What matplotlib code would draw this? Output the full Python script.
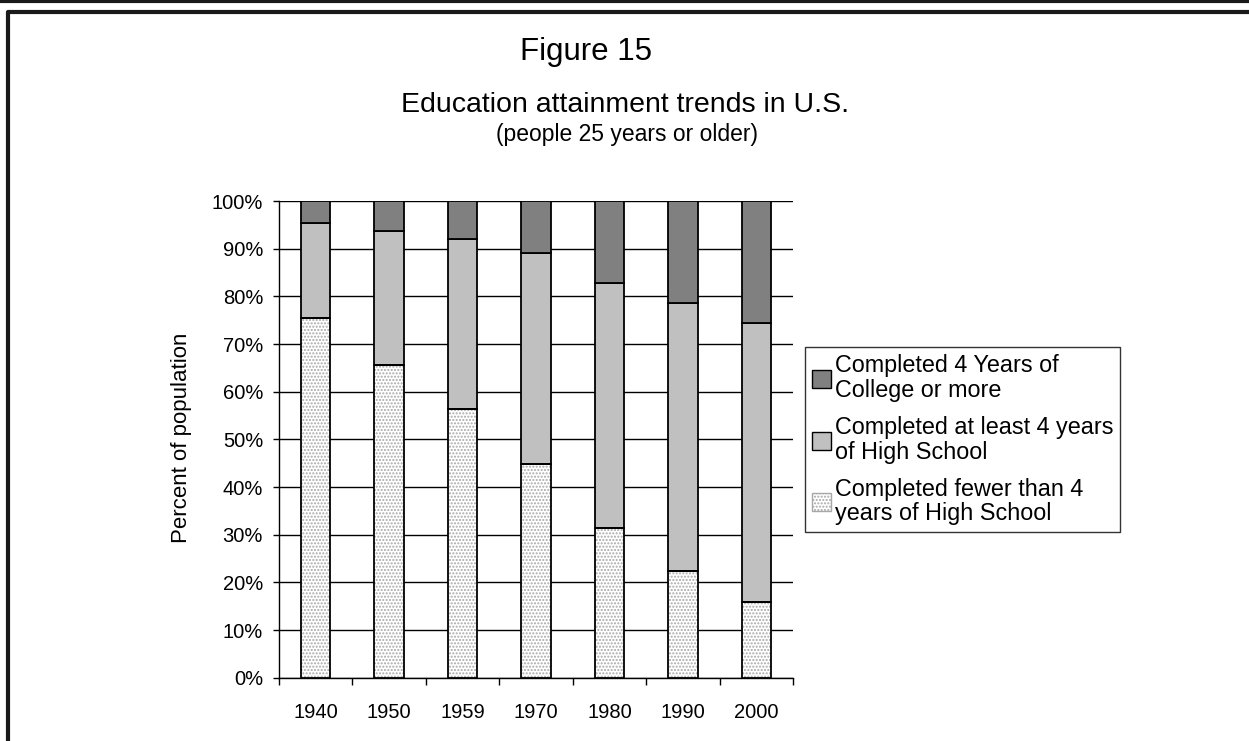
import matplotlib.pyplot as plt
import numpy as np
from matplotlib.lines import Line2D
from matplotlib.patches import Patch

plt.rcParams['font.family'] = ['Liberation Sans', 'DejaVu Sans']

years = ['1940', '1950', '1959', '1970', '1980', '1990', '2000']
# cumulative top of each segment, in percent
fewer_hs = [75.5, 65.7, 56.3, 44.8, 31.4, 22.4, 15.9]
at_least_hs_top = [95.4, 93.7, 92.0, 89.1, 82.9, 78.6, 74.4]
college_top = [100, 100, 100, 100, 100, 100, 100]

labels = ['Completed 4 Years of\nCollege or more',
          'Completed at least 4 years\nof High School',
          'Completed fewer than 4\nyears of High School']

fig = plt.figure(figsize=(12.49, 7.41), dpi=100)
ax = fig.add_axes([0.2234, 0.0854, 0.4115, 0.6433])

x = np.arange(len(years))
w = 0.40
fewer = np.array(fewer_hs)
hs = np.array(at_least_hs_top) - fewer
col = np.array(college_top) - np.array(at_least_hs_top)

# dotted bottom segment: hatch drawn grey, outline drawn black on top
ax.bar(x, fewer, w, color='white', hatch='.....', edgecolor='#a8a8a8', linewidth=0, zorder=3)
ax.bar(x, fewer, w, fill=False, edgecolor='black', linewidth=1.3, zorder=4)
ax.bar(x, hs, w, bottom=fewer, color='#c0c0c0', edgecolor='black', linewidth=1.3, zorder=3)
ax.bar(x, col, w, bottom=np.array(at_least_hs_top), color='#808080', edgecolor='black', linewidth=1.3, zorder=3)

ax.set_xlim(-0.5, len(years) - 0.5)
ax.set_ylim(0, 100)
ax.set_yticks(np.arange(0, 101, 10))
ax.set_yticklabels([f'{v}%' for v in range(0, 101, 10)])
ax.yaxis.grid(True, color='black', linewidth=1)
ax.set_axisbelow(True)

ax.set_xticks(x)
ax.set_xticklabels(years)
ax.set_xticks(np.arange(-0.5, len(years)), minor=True)
ax.tick_params(axis='x', which='major', length=0, pad=18, labelsize=14.5)
ax.tick_params(axis='x', which='minor', length=5, width=1, direction='out')
ax.tick_params(axis='y', length=4.5, width=1, labelsize=14.5, pad=7)

for s in ['top', 'right']:
    ax.spines[s].set_visible(False)
for s in ['left', 'bottom']:
    ax.spines[s].set_linewidth(1)

fig.text(182 / 1249, 1 - 438 / 741, 'Percent of population', rotation=90,
         ha='center', va='center', fontsize=16)

fig.text(586 / 1249, 1 - 60 / 741, 'Figure 15', ha='center', va='baseline', fontsize=22.5)
fig.text(625 / 1249, 1 - 111.5 / 741, 'Education attainment trends in U.S.', ha='center', va='baseline', fontsize=20.5)
fig.text(627 / 1249, 1 - 141 / 741, '(people 25 years or older)', ha='center', va='baseline', fontsize=16.5)

handles = [Patch(facecolor='#808080', edgecolor='black'),
           Patch(facecolor='#c0c0c0', edgecolor='black'),
           Patch(facecolor='white', edgecolor='#a8a8a8', hatch='.....')]
leg = fig.legend(handles, labels, loc='upper left', bbox_to_anchor=(805 / 1249, 1 - 347 / 741),
                 fontsize=16.8, frameon=True, fancybox=False, edgecolor='black',
                 handlelength=0.8, handleheight=0.8, handletextpad=0.17,
                 labelspacing=0.6, borderpad=0.3, borderaxespad=0)
leg.get_frame().set_linewidth(1)
for t in leg.get_texts():
    t.set_linespacing(1.1)

# page border lines
fig.add_artist(Line2D([0, 1], [0.999, 0.999], color='#1a1a1a', linewidth=3, transform=fig.transFigure))
fig.add_artist(Line2D([0.0065, 0.0065, 1], [0, 0.984, 0.984], color='#1a1a1a', linewidth=3, transform=fig.transFigure))

fig.savefig('out.png', dpi=100)
